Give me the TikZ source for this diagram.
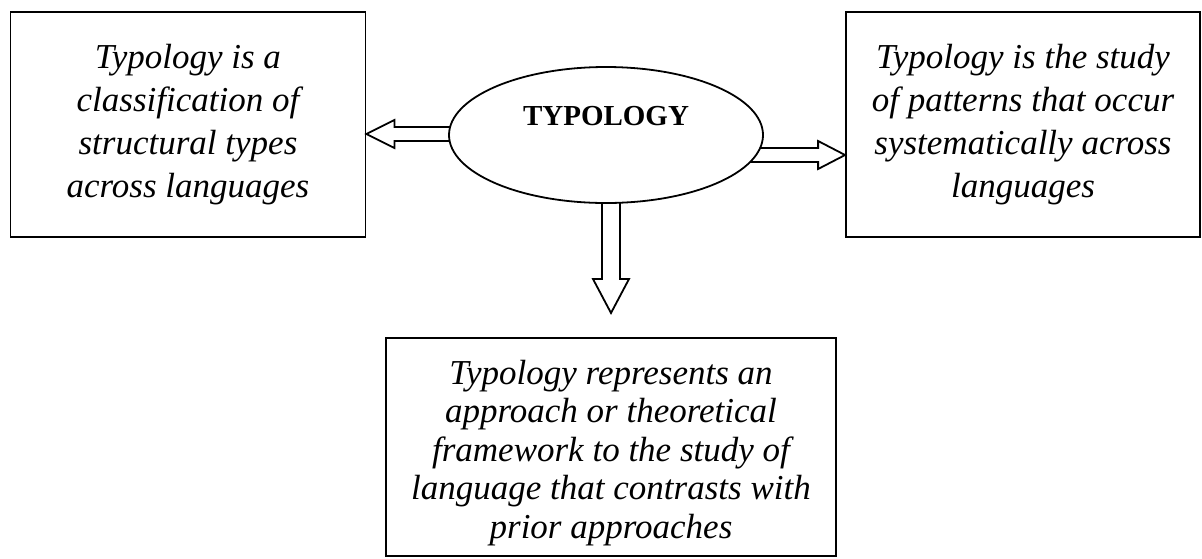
\documentclass[tikz,border=0pt]{standalone}
\usepackage{fontspec}
\setmainfont{Liberation Serif}
\usetikzlibrary{shapes.geometric}
\begin{document}
\begin{tikzpicture}[x=1pt,y=-1pt,
  box/.style={draw, line width=1.8pt, fill=white, inner sep=0pt, align=center,
    font=\fontsize{35}{43}\selectfont\itshape},
  blockarrow/.style={draw, line width=1.8pt, fill=white, line join=miter}]
\useasboundingbox (0,0) rectangle (1202,558);
\node[box, minimum width=355pt, minimum height=225pt] (lbox) at (188,124.5)
  {Typology is a\\classification of\\structural types\\across languages};
\node[box, minimum width=354pt, minimum height=225pt] (rbox) at (1023,124.5)
  {Typology is the study\\of patterns that occur\\systematically across\\languages};
\node[box, minimum width=450pt, minimum height=218pt] (bbox) at (611,447) {};
\node[align=center, inner sep=0pt, font=\fontsize{35}{38.5}\selectfont\itshape] (btext) at (bbox.center) [yshift=-6pt]
  {Typology represents an\\approach or theoretical\\framework to the study of\\language that contrasts with\\prior approaches};
% block arrows
\draw[blockarrow] (lbox.east |- 0,134) -- ++(28,-14) -- ++(0,7) -- ++(62,0) -- ++(0,14) -- ++(-62,0) -- ++(0,7) -- cycle;
\draw[blockarrow] (rbox.west |- 0,155) -- ++(-27,-14) -- ++(0,7) -- ++(-80,0) -- ++(0,14) -- ++(80,0) -- ++(0,7) -- cycle;
\coordinate (dtip) at (611,313);
\draw[blockarrow] (dtip) -- ++(-18,-34) -- ++(9,0) -- ++(0,-89) -- ++(18,0) -- ++(0,89) -- ++(9,0) -- cycle;
% central ellipse
\node[ellipse, draw, line width=1.8pt, fill=white, minimum width=314pt, minimum height=136pt, inner sep=0pt] (ell) at (606,135) {};
\node[anchor=base, font=\fontsize{29}{34}\selectfont\bfseries, inner sep=0pt] (title) at (606,125) {TYPOLOGY};
\end{tikzpicture}
\end{document}
